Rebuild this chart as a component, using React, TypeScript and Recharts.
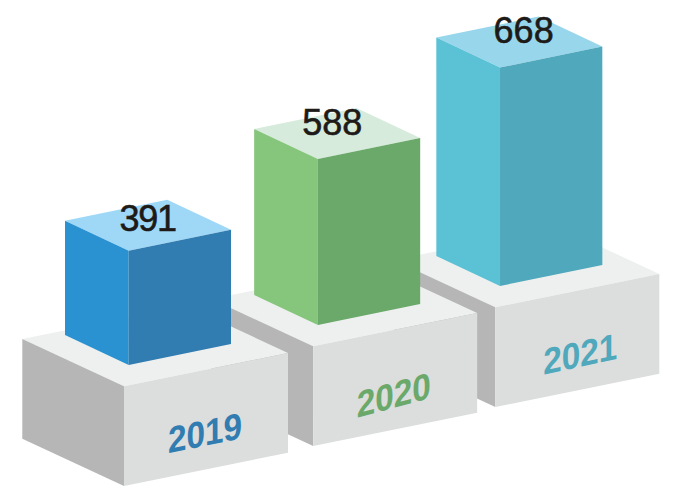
import { BarChart, Bar, XAxis, YAxis } from "recharts";

const years = ["2019", "2020", "2021"];
const values = [391, 588, 668];

// drawn back to front, the reversed axis puts 2019 back on the left
const rows = years.map((year, i) => ({ year, value: values[i] })).reverse();

const palette: Record<string, { top: string; left: string; right: string }> = {
  "2019": { top: "#9fd8f7", left: "#2a92d1", right: "#317cb0" },
  "2020": { top: "#d6ebdb", left: "#86c57c", right: "#6aa96a" },
  "2021": { top: "#98d6eb", left: "#5bc1d5", right: "#4fa8bb" },
};

// the picture is pictorial: each block sits on a raised step and is not strictly to scale
const placement: Record<
  string,
  {
    dx: number;
    lift: number;
    stretch: number;
    labelDx: number;
    labelDy: number;
    labelSpacing: number;
    yearDx: number;
    yearDy: number;
    yearSkew: number;
  }
> = {
  "2019": { dx: 0, lift: 0, stretch: 1, labelDx: 19, labelDy: -20, labelSpacing: -1.2, yearDx: 81, yearDy: 46.5, yearSkew: -11.5 },
  "2020": { dx: 3.5, lift: 40, stretch: 0.965, labelDx: 14.3, labelDy: -24, labelSpacing: 0, yearDx: 80.5, yearDy: 48.5, yearSkew: -15 },
  "2021": { dx: 0, lift: 79, stretch: 1.118, labelDx: 23.6, labelDy: -24.3, labelSpacing: 0, yearDx: 85, yearDy: 46.5, yearSkew: -12 },
};

const pts = (list: number[][]) => list.map((p) => p.join(",")).join(" ");

const Block = (props: any) => {
  const { x, y, width, height, payload } = props;
  const { year, value } = payload;
  const c = palette[year];
  const p = placement[year];

  const h = height * p.stretch;
  const xl = x + p.dx;
  const xm = xl + 63.7;
  const xr = xl + width;
  const base = y + height - p.lift;
  const top = base - h;
  const back = [xl + xr - xm, top - 30 - 21];

  // step under the block
  const sx = xm - 4.7;
  const sy = base + 21.3;
  const sh = 99.7;

  return (
    <g>
      <polygon
        points={pts([[sx - 101.7, sy - 47.3], [sx + 62.3, sy - 80.6], [sx + 164, sy - 33.3], [sx, sy]])}
        fill="#eef0f0"
      />
      <polygon
        points={pts([[sx - 101.7, sy - 47.3], [sx, sy], [sx, sy + sh], [sx - 101.7, sy - 47.3 + sh]])}
        fill="#b5b6b5"
      />
      <polygon
        points={pts([[sx, sy], [sx + 164, sy - 33.3], [sx + 164, sy - 33.3 + sh], [sx, sy + sh]])}
        fill="#dcdddd"
      />
      <polygon
        points={pts([[xl, top - 30], back, [xr, top - 21], [xm, top]])}
        fill={c.top}
      />
      <polygon
        points={pts([[xl, top - 30], [xm, top], [xm, base], [xl, base - 30]])}
        fill={c.left}
      />
      <polygon
        points={pts([[xm, top], [xr, top - 21], [xr, base - 21], [xm, base]])}
        fill={c.right}
      />
      <text
        x={xm + p.labelDx}
        y={top + p.labelDy}
        textAnchor="middle"
        fontFamily="Liberation Sans, Arial, sans-serif"
        fontSize={36}
        letterSpacing={p.labelSpacing}
        fill="#1d1a18"
        stroke="#1d1a18"
        strokeWidth={0.6}
      >
        {value}
      </text>
      <text
        transform={`translate(${sx + p.yearDx} ${sy + p.yearDy}) skewY(${p.yearSkew}) scale(0.9 1)`}
        y={13}
        textAnchor="middle"
        fontFamily="Liberation Sans, Arial, sans-serif"
        fontWeight="bold"
        fontSize={37}
        fill={c.right}
      >
        {year}
      </text>
    </g>
  );
};

export default function App() {
  return (
    <div style={{ position: "absolute", left: 0, top: 0, width: 673, height: 499 }}>
      <BarChart
        width={673}
        height={499}
        data={rows}
        barSize={166}
        margin={{ top: 131, right: 61, bottom: 134, left: 55 }}
      >
        <XAxis dataKey="year" hide reversed />
        <YAxis hide domain={[0, 800]} />
        <Bar dataKey="value" isAnimationActive={false} shape={Block} />
      </BarChart>
    </div>
  );
}
